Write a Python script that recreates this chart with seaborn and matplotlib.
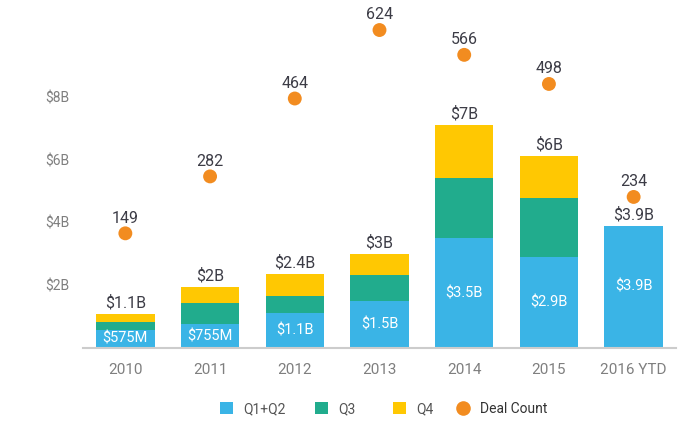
import matplotlib
matplotlib.use("Agg")
import matplotlib.pyplot as plt
import seaborn as sns
import numpy as np
import pandas as pd
from matplotlib.lines import Line2D
from matplotlib.patches import Patch

years = ["2010", "2011", "2012", "2013", "2014", "2015", "2016 YTD"]
q12 = [0.575, 0.755, 1.1, 1.5, 3.5, 2.9, 3.9]
q3 = [0.25, 0.68, 0.57, 0.83, 1.9, 1.87, 0.0]
q4 = [0.27, 0.52, 0.68, 0.67, 1.7, 1.33, 0.0]
deals = [149, 282, 464, 624, 566, 498, 234]
total_labels = ["$1.1B", "$2B", "$2.4B", "$3B", "$7B", "$6B", "$3.9B"]
inner_labels = ["$575M", "$755M", "$1.1B", "$1.5B", "$3.5B", "$2.9B", "$3.9B"]
ytick_vals = [2, 4, 6, 8]
ytick_labels = ["$2B", "$4B", "$6B", "$8B"]
legend_labels = ["Q1+Q2", "Q3", "Q4", "Deal Count"]

BLUE = "#3AB4E6"
GREEN = "#21AC8D"
YELLOW = "#FFC802"
ORANGE = "#F28C20"
DARK = "#3C3C46"
GRAY = "#7F7F7F"

sns.set_theme(style="white")
plt.rcParams["font.family"] = ["Roboto", "DejaVu Sans"]

df = pd.DataFrame({"year": years, "q12": q12, "q3": q3, "q4": q4})
df["c2"] = df["q12"] + df["q3"]
df["c3"] = df["c2"] + df["q4"]

W, H = 700, 423
fig = plt.figure(figsize=(7, 4.23), dpi=100)
left, right, bottom_px, top_px = 83, 676, 348, 20
ax = fig.add_axes([left / W, (H - bottom_px) / H, (right - left) / W, (bottom_px - top_px) / H])

px_per_b = 31.4
ax.set_ylim(0, (bottom_px - top_px) / px_per_b)

sns.barplot(data=df, x="year", y="c3", color=YELLOW, saturation=1, width=0.69, ax=ax, linewidth=0)
sns.barplot(data=df, x="year", y="c2", color=GREEN, saturation=1, width=0.69, ax=ax, linewidth=0)
sns.barplot(data=df, x="year", y="q12", color=BLUE, saturation=1, width=0.69, ax=ax, linewidth=0)
ax.set_xlim(-0.5, 6.5)

for i, (t, lab, inner, base) in enumerate(zip(df["c3"], total_labels, inner_labels, q12)):
    ax.annotate(lab, (i, t), xytext=(0, 2.5), textcoords="offset points",
                ha="center", va="bottom", fontsize=11.5, color=DARK)
    ax.text(i, base / 2, inner, ha="center", va="center", fontsize=10.5, color="white")

ax.set_yticks(ytick_vals)
ax.set_yticklabels(ytick_labels)
ax.set_xlabel("")
ax.set_ylabel("")
ax.tick_params(axis="y", length=0, pad=9.5, labelsize=10, labelcolor=GRAY)
ax.tick_params(axis="x", length=0, pad=11, labelsize=11, labelcolor=GRAY)
for s in ["top", "right", "left"]:
    ax.spines[s].set_visible(False)
ax.spines["bottom"].set_color("#CCCCCC")
ax.spines["bottom"].set_linewidth(1.5)
ax.grid(False)

ax2 = ax.twinx()
px_per_deal = 0.428
zero_px = 297.1
ax2.set_ylim(-(bottom_px - zero_px) / px_per_deal, (zero_px - top_px) / px_per_deal)
sns.scatterplot(x=years, y=deals, color=ORANGE, s=100, edgecolor="none", ax=ax2, legend=False)
for i, d in enumerate(deals):
    ax2.annotate(str(d), (i, d), xytext=(0, 5.5), textcoords="offset points",
                 ha="center", va="bottom", fontsize=11.5, color=DARK)
ax2.set_yticks([])
ax2.set_ylabel("")
for s in ax2.spines.values():
    s.set_visible(False)
ax2.set_xlim(-0.5, 6.5)

handles = [
    Patch(facecolor=BLUE, edgecolor="none", label=legend_labels[0]),
    Patch(facecolor=GREEN, edgecolor="none", label=legend_labels[1]),
    Patch(facecolor=YELLOW, edgecolor="none", label=legend_labels[2]),
    Line2D([], [], marker="o", linestyle="none", markerfacecolor=ORANGE,
           markeredgecolor="none", markersize=10.5, label=legend_labels[3]),
]
leg_x = [220, 315, 393, 456]
leg_y = 409
for h, x in zip(handles, leg_x):
    lg = fig.legend(handles=[h], loc="center left", bbox_to_anchor=(x / W, (H - leg_y) / H),
                    frameon=False, fontsize=10, handlelength=0.95, handleheight=0.95,
                    handletextpad=0.75, borderpad=0, borderaxespad=0)
    for t in lg.get_texts():
        if t.get_text() == "Deal Count":
            t.set_color("#333333")
        else:
            t.set_color("#555555")

fig.savefig("out.png", dpi=100)
